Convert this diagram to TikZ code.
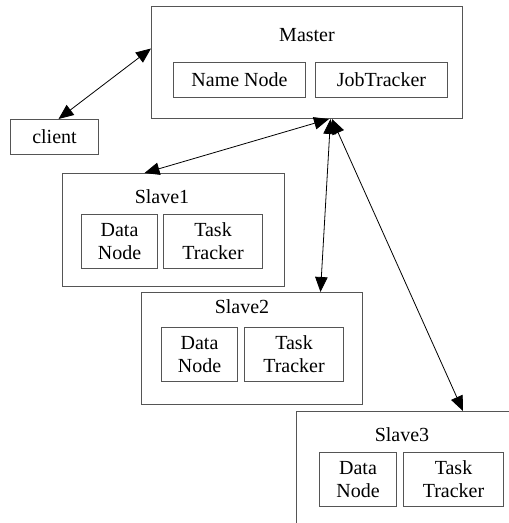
\documentclass[tikz,border=0pt]{standalone}
\usepackage{fontspec}
\setmainfont{Liberation Serif}
\usetikzlibrary{arrows.meta}
\definecolor{boxgray}{RGB}{85,85,85}
\begin{document}
\begin{tikzpicture}[x=1pt,y=1pt,
  frame/.style={draw=boxgray, line width=1pt, anchor=north west, inner sep=0pt},
  part/.style={frame, font=\fontsize{20}{23}\selectfont, align=center},
  lbl/.style={font=\fontsize{20}{23}\selectfont, inner sep=0pt},
  link/.style={line width=0.8pt,
    {Triangle[length=15pt,width=12.5pt]}-{Triangle[length=15pt,width=12.5pt]}}]
\useasboundingbox (0,0) rectangle (509,-523);
\clip (0,0) rectangle (509,-523);

% master
\node[frame, minimum width=311, minimum height=112] (master) at (151,-6) {};
\node[lbl] (masterlbl) at (307,-35) {Master};
\node[part, minimum width=132, minimum height=35] (namenode) at (173,-62) {Name Node};
\node[part, minimum width=132, minimum height=35] (jobtracker) at (315,-62) {JobTracker};

% client
\node[part, minimum width=88, minimum height=35] (client) at (10,-119) {client};

% slave 1
\node[frame, minimum width=222, minimum height=113] (slave1) at (62,-173) {};
\node[lbl] (slave1lbl) at (162,-197) {Slave1};
\node[part, minimum width=76, minimum height=54] (dn1) at (81,-214) {Data\\Node};
\node[part, minimum width=99, minimum height=54] (tt1) at (163,-214) {Task\\Tracker};

% slave 2
\node[frame, minimum width=221, minimum height=112] (slave2) at (141,-292) {};
\node[lbl] (slave2lbl) at (242,-307) {Slave2};
\node[part, minimum width=76, minimum height=54] (dn2) at (161,-327) {Data\\Node};
\node[part, minimum width=99, minimum height=54] (tt2) at (244,-327) {Task\\Tracker};

% slave 3 (runs past the right and bottom edges)
\node[frame, minimum width=240, minimum height=140] (slave3) at (296,-411) {};
\node[lbl] (slave3lbl) at (402,-435) {Slave3};
\node[part, minimum width=77, minimum height=54] (dn3) at (319,-452) {Data\\Node};
\node[part, minimum width=100, minimum height=54] (tt3) at (403,-452) {Task\\Tracker};

% connections
\draw[link] ([xshift=4pt]client.north) -- ([yshift=14pt]master.west);
\draw[link] ([xshift=-29pt]slave1.north) -- ([xshift=22pt]master.south);
\draw[link] ([xshift=68.5pt]slave2.north) -- ([xshift=23.5pt]master.south);
\draw[link] ([xshift=167pt]slave3.north west) -- ([xshift=25pt]master.south);
\end{tikzpicture}
\end{document}
